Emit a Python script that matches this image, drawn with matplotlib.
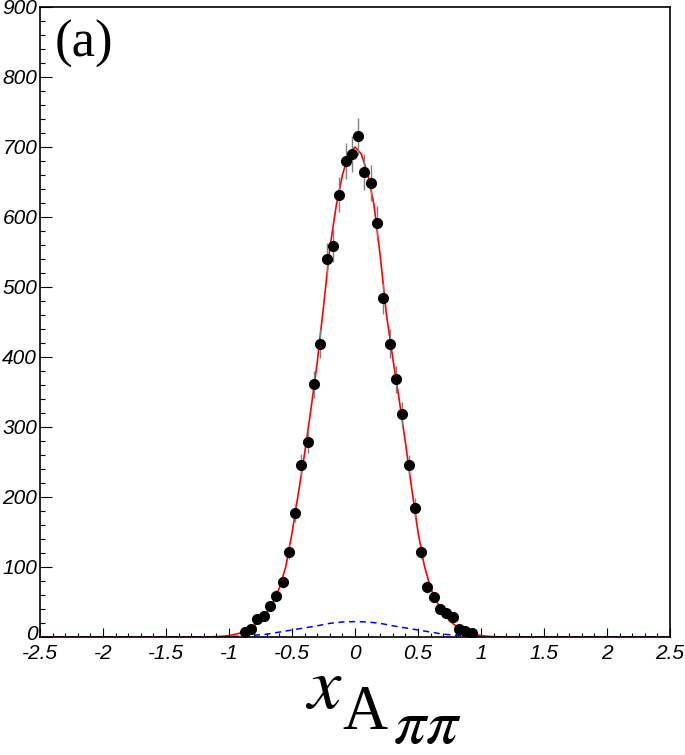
"""Recreates the x_{A pi pi} distribution panel (a)"""

import numpy as np
import matplotlib.pyplot as plt
import matplotlib.transforms as mtransforms

plt.rcParams['mathtext.fontset'] = 'stix'

# Data points (bin centres, counts, errors)
x_bins = [-0.875, -0.825, -0.775, -0.725, -0.675, -0.625, -0.575, -0.525, -0.475,
          -0.425, -0.375, -0.325, -0.275, -0.225, -0.175, -0.125, -0.075, -0.025,
          0.025, 0.075, 0.125, 0.175, 0.225, 0.275, 0.325, 0.375, 0.425,
          0.475, 0.525, 0.575, 0.625, 0.675, 0.725, 0.775, 0.825, 0.875, 0.925]
counts = [7, 11, 26, 30, 44, 59, 79, 122, 177,
          246, 279, 361, 419, 540, 559, 632, 680, 690,
          715, 664, 649, 591, 484, 419, 368, 318, 245,
          185, 122, 72, 57, 40, 35, 29, 12, 9, 6]
errors = [2.6, 3.3, 5.1, 5.5, 6.6, 7.7, 8.9, 11.0, 13.3,
          15.7, 16.7, 19.0, 20.5, 23.2, 23.6, 25.1, 26.1, 26.3,
          26.7, 25.8, 25.5, 24.3, 22.0, 20.5, 19.2, 17.8, 15.7,
          13.6, 11.0, 8.5, 7.5, 6.3, 5.9, 5.4, 3.5, 3.0, 2.4]

# Total fit curve (red)
fit_x = [-2.5, -1.25, -1.2, -1.15, -1.1, -1.05, -1.0, -0.95, -0.9, -0.85, -0.8,
         -0.75, -0.7, -0.65, -0.6, -0.55, -0.5, -0.45, -0.4, -0.35, -0.3,
         -0.25, -0.2, -0.15, -0.1, -0.05, 0.0, 0.05, 0.1, 0.15, 0.2,
         0.25, 0.3, 0.35, 0.4, 0.45, 0.5, 0.55, 0.6, 0.65, 0.7,
         0.75, 0.8, 0.85, 0.9, 0.95, 1.0, 1.05, 1.1, 1.15, 1.2, 1.25, 2.5]
fit_total = [0, 0, 0.1, 0.2, 0.5, 1, 2, 4, 6, 10, 16,
             24, 35, 50, 70, 100, 148, 205, 262, 325, 392,
             472, 555, 615, 660, 690, 700, 690, 662, 618, 545,
             460, 398, 340, 278, 212, 150, 102, 70, 50, 35,
             23, 16, 10, 6, 4, 2, 1, 0.5, 0.2, 0.1, 0, 0]

# Background component (blue dashed)
bkg_x = [-2.5, -1.2, -1.1, -1.0, -0.9, -0.8, -0.7, -0.6, -0.5, -0.4, -0.3, -0.2, -0.1,
         0.0, 0.1, 0.2, 0.3, 0.4, 0.5, 0.6, 0.7, 0.8, 0.9, 1.0, 1.1, 1.2, 2.5]
fit_bkg = [0, 0, 0.2, 0.6, 1.3, 2.5, 4, 7, 10, 13, 16, 19.5, 21.5,
           22, 21.5, 19.5, 16, 13, 10, 7, 4, 2.5, 1.3, 0.6, 0.2, 0, 0]

x_ticks = [-2.5, -2, -1.5, -1, -0.5, 0, 0.5, 1, 1.5, 2, 2.5]
x_tick_labels = ["-2.5", "-2", "-1.5", "-1", "-0.5", "0", "0.5", "1", "1.5", "2", "2.5"]
y_ticks = [0, 100, 200, 300, 400, 500, 600, 700, 800, 900]
y_tick_labels = ["0", "100", "200", "300", "400", "500", "600", "700", "800", "900"]

W, H = 685, 755
fig = plt.figure(figsize=(W / 100, H / 100), dpi=100)
ax = fig.add_axes([40 / W, (H - 637) / H, 630 / W, 630 / H])

ax.plot(bkg_x, fit_bkg, color="blue", linestyle=(0, (4, 3)), linewidth=1.1, zorder=2)
ax.plot(fit_x, fit_total, color="red", linewidth=1.2, zorder=2)
ax.errorbar(x_bins, counts, yerr=errors, fmt="o", color="black", markersize=7,
            ecolor="gray", elinewidth=1, capsize=0, zorder=3)

ax.set_xlim(-2.5, 2.5)
ax.set_ylim(0, 900)

tick_font = {"family": "Liberation Sans", "style": "italic", "size": 15}
ax.set_xticks(x_ticks)
ax.set_xticklabels(x_tick_labels, fontdict=tick_font)
ax.set_xticks(np.arange(-2.5, 2.51, 0.1), minor=True)
ax.set_yticks(y_ticks)
ax.set_yticklabels(y_tick_labels, fontdict=tick_font)
ax.set_yticks(np.arange(0, 901, 20), minor=True)

ax.tick_params(axis="x", which="major", direction="in", length=6.5, width=0.8, pad=5)
ax.tick_params(axis="x", which="minor", direction="in", length=3.2, width=0.8)
ax.tick_params(axis="y", which="major", direction="in", length=8.6, width=0.8, pad=2)
ax.tick_params(axis="y", which="minor", direction="in", length=3.6, width=0.8)
for sp in ax.spines.values():
    sp.set_linewidth(1.2)

# lift the "0" label a little so it clears "-2.5"
zero_lab = ax.get_yticklabels()[0]
zero_lab.set_transform(zero_lab.get_transform()
                       + mtransforms.ScaledTranslation(0, 3 / 72, fig.dpi_scale_trans))

# Panel label
ax.text((55 - 40) / 630, 1 - (57 - 7) / 630, "(a)", transform=ax.transAxes,
        family="Liberation Serif", fontsize=38, ha="left", va="baseline")

# Axis title x_{A pi pi}, built from pieces like the ROOT latex
fig.text(305 / W, 1 - 709 / H, r"$x$", fontsize=54, ha="left", va="baseline")
fig.text(342 / W, 1 - 729 / H, "A", family="Liberation Serif", fontsize=45,
         ha="left", va="baseline")
fig.text(393 / W, 1 - 743 / H, r"$\pi\pi$", fontsize=46, ha="left", va="baseline")

fig.savefig("out.png", dpi=100)
